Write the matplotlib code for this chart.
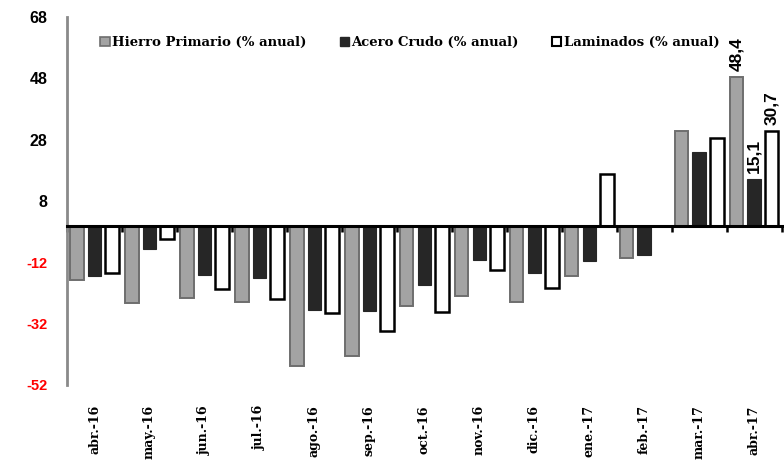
import numpy as np
import matplotlib
matplotlib.use('Agg')
import matplotlib.pyplot as plt
from matplotlib.patches import Patch

# monthly series, % change year on year
meses = ['abr.-16', 'may.-16', 'jun.-16', 'jul.-16', 'ago.-16', 'sep.-16', 'oct.-16',
         'nov.-16', 'dic.-16', 'ene.-17', 'feb.-17', 'mar.-17', 'abr.-17']
hierro = [-17.8, -25.4, -23.5, -25.0, -45.9, -42.6, -26.3, -22.9, -25.0, -16.5, -10.5, 30.7, 48.4]
acero = [-16.5, -7.5, -16.2, -17.1, -27.6, -27.9, -19.5, -11.3, -15.6, -11.6, -9.6, 24.1, 15.1]
laminados = [-15.4, -4.5, -20.8, -24.1, -28.4, -34.4, -28.3, -14.5, -20.5, 16.8, 0.0, 28.4, 30.7]

y_ticks = [-52, -32, -12, 8, 28, 48, 68]

fig = plt.figure(figsize=(7.84, 4.61), dpi=100)
ax = fig.add_axes([0.0855, 0.165, 0.9115, 0.798])

x = np.arange(len(meses))
w = 0.245
off = 0.32
b1 = ax.bar(x - off, hierro, w, color='#a3a3a3', edgecolor='#6e6e6e', linewidth=1.4, zorder=2)
b2 = ax.bar(x, acero, w, color='#262626', edgecolor='#262626', linewidth=0.8, zorder=2)
b3 = ax.bar(x + off, laminados, w, color='white', edgecolor='black', linewidth=1.8, zorder=2)

# value labels on the last month
last = len(meses) - 1
for xpos, val in [(last - off, hierro[last]), (last, acero[last]), (last + off, laminados[last])]:
    ax.text(xpos, val + 2.0, f'{val:.1f}'.replace('.', ','), rotation=90, ha='center', va='bottom',
            fontsize=12.5, fontweight='bold', family='Liberation Sans')

ax.set_xlim(-0.5, len(meses) - 0.5)
ax.set_ylim(-52, 68)
ax.set_yticks(y_ticks)
ax.set_yticklabels([str(t) for t in y_ticks])
for lbl, t in zip(ax.get_yticklabels(), y_ticks):
    lbl.set_color('red' if t < 0 else 'black')
    lbl.set_fontweight('bold')
    lbl.set_family('Liberation Sans')
    lbl.set_fontsize(11.5 if t > 0 else 10.5)
ax.tick_params(axis='y', length=0, pad=14)

# zero line with boundary ticks
ax.spines['bottom'].set_position(('data', 0))
ax.spines['bottom'].set_linewidth(2.2)
ax.spines['bottom'].set_zorder(3)
ax.set_xticks(np.arange(len(meses) + 1) - 0.5)
ax.set_xticklabels([])
ax.tick_params(axis='x', direction='out', length=4, width=1.8, color='black')

for s in ['top', 'right']:
    ax.spines[s].set_visible(False)
ax.spines['left'].set_color('#8a8a8a')
ax.spines['left'].set_linewidth(2)

# month labels along the bottom
for xi, m in zip(x, meses):
    ax.text(xi, -0.055, m, transform=ax.get_xaxis_transform(), rotation=90, ha='center', va='top',
            fontsize=9, fontweight='bold', family='DejaVu Serif')

handles = [Patch(facecolor='#a3a3a3', edgecolor='#6e6e6e', linewidth=1.2),
           Patch(facecolor='#262626', edgecolor='#262626'),
           Patch(facecolor='white', edgecolor='black', linewidth=1.5)]
ax.legend(handles, ['Hierro Primario (% anual)', 'Acero Crudo (% anual)', 'Laminados (% anual)'],
          loc='upper left', bbox_to_anchor=(0.03, 0.98), ncol=3, frameon=False,
          handlelength=0.7, handleheight=0.7, handletextpad=0.2, columnspacing=2.5,
          prop={'family': 'DejaVu Serif', 'weight': 'bold', 'size': 9.5})

fig.savefig('out.png', dpi=100)
